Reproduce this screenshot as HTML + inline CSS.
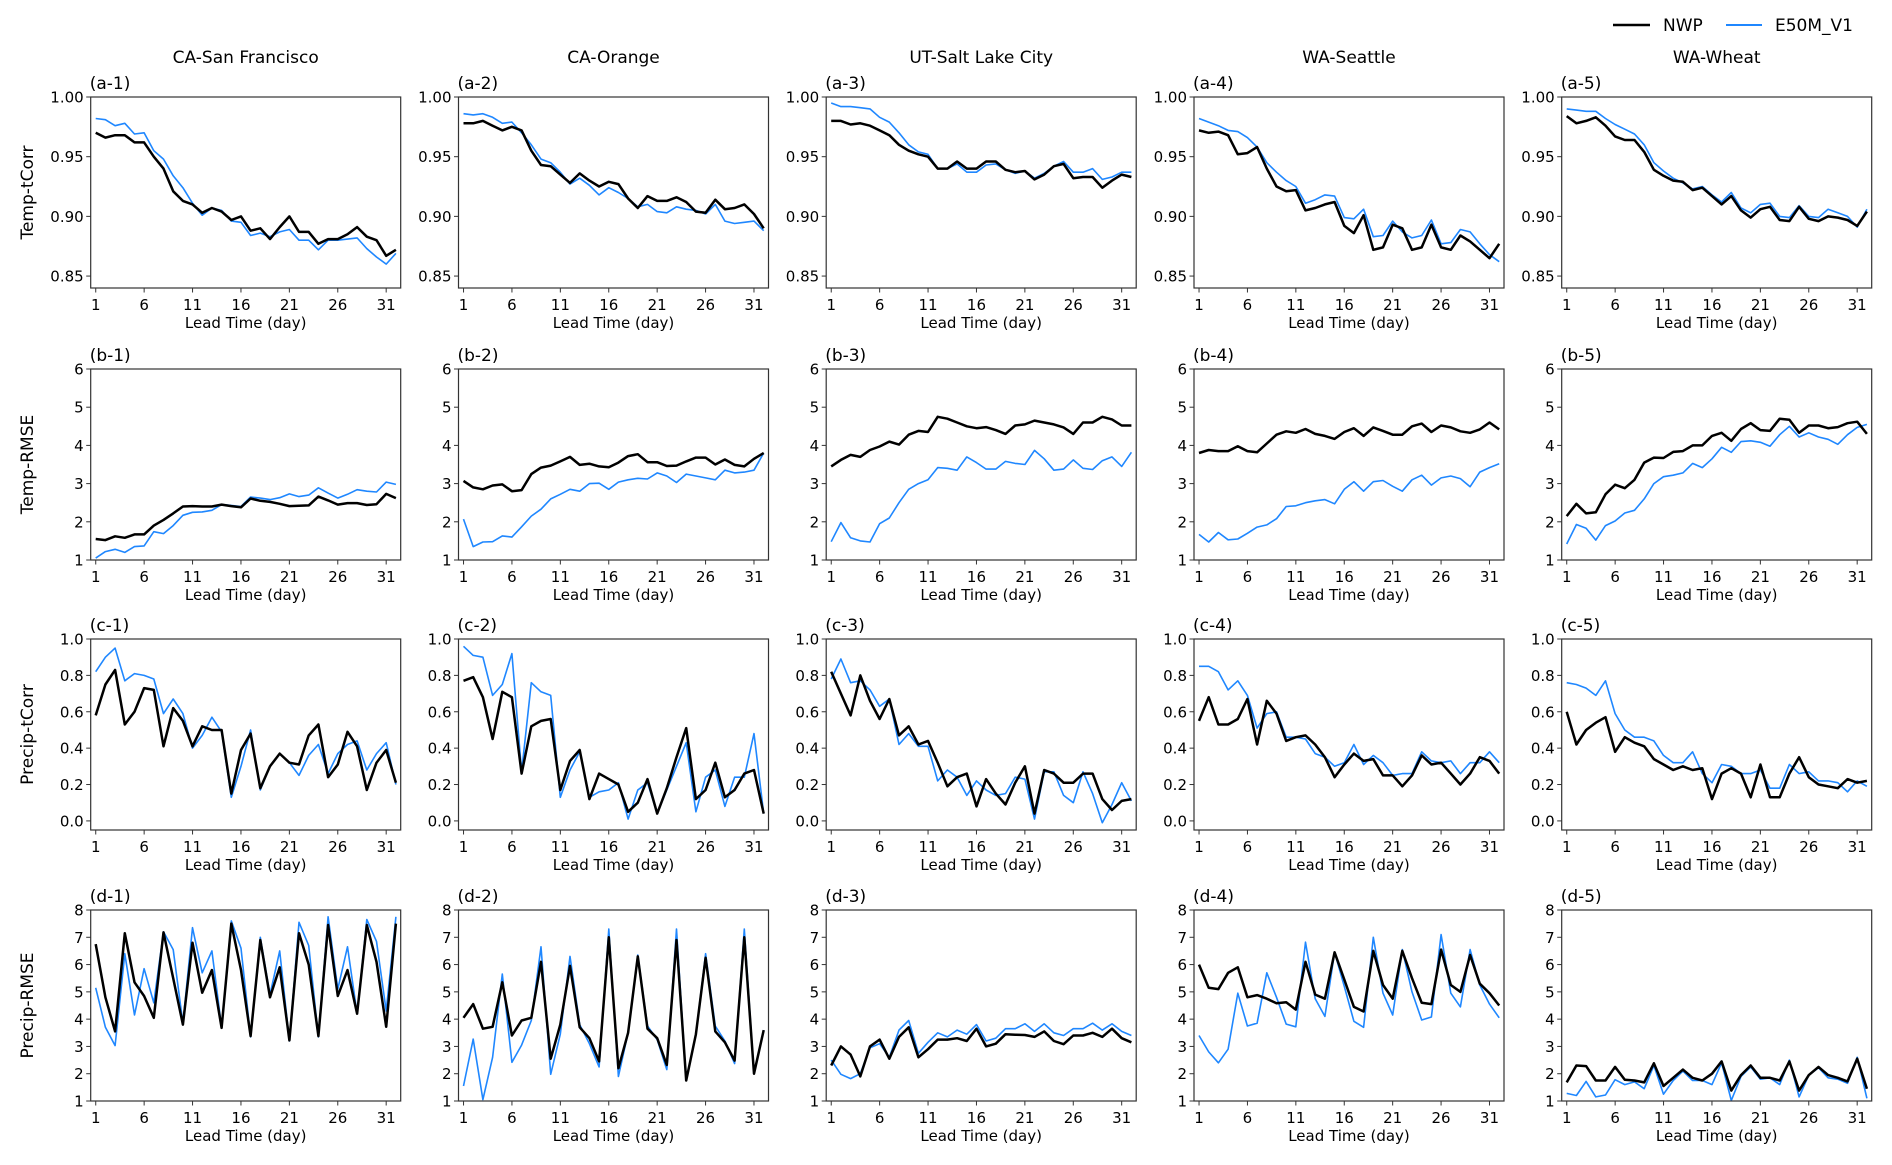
<!DOCTYPE html>
<html><head><meta charset="utf-8">
<style>
html,body{margin:0;padding:0;background:#fff;}
svg{display:block;font-family:"DejaVu Sans","Liberation Sans",sans-serif;}
</style></head>
<body>
<svg id="fig" width="1892" height="1165" viewBox="0 0 1892 1165" xmlns="http://www.w3.org/2000/svg">
<g>
<line x1="1613" y1="25" x2="1650" y2="25" stroke="#000" stroke-width="2.6"/>
<text x="1663" y="31" font-size="17">NWP</text>
<line x1="1726" y1="25" x2="1762" y2="25" stroke="#1f87ff" stroke-width="2"/>
<text x="1775" y="31" font-size="17">E50M_V1</text>
</g>
</svg>
<script>
const columnTitles=["CA-San Francisco","CA-Orange","UT-Salt Lake City","WA-Seattle","WA-Wheat"];
const rowLabels=["Temp-tCorr","Temp-RMSE","Precip-tCorr","Precip-RMSE"];
const rowLetters=["a","b","c","d"];
const xTicks=[1,6,11,16,21,26,31];
const yTicksA=["0.85","0.90","0.95","1.00"];
const yTicksB=["1","2","3","4","5","6"];
const yTicksC=["0.0","0.2","0.4","0.6","0.8","1.0"];
const yTicksD=["1","2","3","4","5","6","7","8"];

const nwpA1=[.970,.966,.968,.968,.962,.962,.950,.940,.921,.913,.910,.903,.907,.904,.897,.900,.888,.890,.881,.891,.900,.887,.887,.877,.881,.881,.885,.891,.883,.880,.867,.872];
const e50A1=[.982,.981,.976,.978,.969,.970,.955,.948,.934,.924,.911,.901,.907,.905,.896,.895,.884,.886,.883,.887,.889,.880,.880,.872,.880,.880,.881,.882,.873,.866,.860,.869];
const nwpA2=[.978,.978,.980,.976,.972,.975,.972,.955,.943,.942,.935,.928,.936,.930,.925,.929,.927,.915,.907,.917,.913,.913,.916,.912,.904,.903,.914,.906,.907,.910,.902,.890];
const e50A2=[.986,.985,.986,.983,.978,.979,.970,.960,.948,.945,.937,.927,.932,.926,.918,.924,.920,.915,.908,.910,.904,.903,.908,.906,.905,.902,.910,.896,.894,.895,.896,.888];
const nwpA3=[.980,.980,.977,.978,.976,.972,.968,.960,.955,.952,.950,.940,.940,.946,.940,.940,.946,.946,.939,.937,.938,.931,.935,.942,.944,.932,.933,.933,.924,.930,.935,.933];
const e50A3=[.995,.992,.992,.991,.990,.983,.979,.970,.960,.954,.952,.940,.940,.944,.937,.937,.943,.944,.939,.936,.938,.932,.936,.942,.946,.937,.937,.940,.931,.933,.937,.937];
const nwpA4=[.972,.970,.971,.968,.952,.953,.958,.940,.925,.921,.922,.905,.907,.910,.912,.892,.886,.901,.872,.874,.893,.890,.872,.874,.893,.874,.872,.884,.879,.872,.865,.877];
const e50A4=[.982,.979,.976,.972,.971,.966,.958,.945,.937,.930,.925,.911,.914,.918,.917,.899,.898,.906,.883,.884,.896,.887,.882,.884,.897,.877,.878,.889,.887,.877,.868,.862];
const nwpA5=[.984,.978,.980,.983,.976,.967,.964,.964,.954,.939,.934,.930,.929,.922,.924,.917,.910,.917,.905,.899,.906,.908,.897,.896,.908,.898,.896,.900,.899,.897,.892,.904];
const e50A5=[.990,.989,.988,.988,.982,.977,.973,.969,.960,.945,.938,.932,.928,.923,.925,.918,.912,.920,.907,.903,.910,.911,.900,.899,.909,.900,.899,.906,.903,.900,.891,.906];

const nwpB1=[1.55,1.52,1.62,1.58,1.67,1.67,1.90,2.05,2.22,2.40,2.41,2.40,2.40,2.45,2.41,2.38,2.61,2.55,2.52,2.47,2.41,2.42,2.43,2.66,2.56,2.45,2.49,2.49,2.44,2.46,2.73,2.62];
const e50B1=[1.05,1.22,1.28,1.20,1.35,1.37,1.74,1.69,1.90,2.17,2.25,2.26,2.30,2.45,2.43,2.40,2.65,2.62,2.58,2.63,2.73,2.66,2.70,2.89,2.75,2.62,2.72,2.84,2.80,2.78,3.04,2.98];
const nwpB2=[3.07,2.90,2.85,2.95,2.98,2.80,2.83,3.25,3.42,3.47,3.58,3.70,3.49,3.52,3.45,3.43,3.55,3.72,3.77,3.56,3.56,3.46,3.47,3.58,3.68,3.68,3.50,3.63,3.49,3.45,3.65,3.80];
const e50B2=[2.07,1.35,1.47,1.48,1.63,1.60,1.87,2.15,2.33,2.60,2.72,2.85,2.80,3.00,3.01,2.85,3.04,3.10,3.14,3.12,3.28,3.20,3.03,3.25,3.20,3.15,3.10,3.35,3.28,3.30,3.35,3.80];
const nwpB3=[3.45,3.62,3.75,3.70,3.88,3.97,4.10,4.02,4.28,4.38,4.35,4.75,4.70,4.60,4.50,4.45,4.48,4.40,4.30,4.52,4.55,4.65,4.60,4.55,4.47,4.30,4.60,4.60,4.75,4.68,4.52,4.52];
const e50B3=[1.48,1.98,1.58,1.50,1.47,1.95,2.10,2.50,2.85,3.00,3.10,3.42,3.40,3.35,3.70,3.55,3.38,3.38,3.58,3.53,3.50,3.87,3.65,3.35,3.38,3.62,3.40,3.37,3.60,3.70,3.45,3.82];
const nwpB4=[3.80,3.88,3.85,3.85,3.98,3.85,3.82,4.05,4.28,4.37,4.33,4.43,4.30,4.25,4.17,4.35,4.45,4.25,4.47,4.38,4.28,4.28,4.50,4.57,4.35,4.52,4.47,4.37,4.33,4.42,4.60,4.42];
const e50B4=[1.67,1.47,1.72,1.53,1.55,1.70,1.86,1.92,2.08,2.40,2.42,2.50,2.55,2.58,2.47,2.85,3.05,2.80,3.05,3.08,2.93,2.80,3.10,3.22,2.96,3.15,3.20,3.13,2.92,3.30,3.42,3.52];
const nwpB5=[2.15,2.47,2.22,2.25,2.72,2.97,2.88,3.10,3.55,3.68,3.67,3.83,3.85,4.00,4.00,4.25,4.33,4.12,4.43,4.58,4.40,4.38,4.70,4.67,4.33,4.52,4.52,4.45,4.48,4.58,4.62,4.30];
const e50B5=[1.42,1.93,1.83,1.52,1.90,2.02,2.23,2.30,2.60,3.00,3.18,3.22,3.28,3.53,3.42,3.65,3.95,3.82,4.10,4.12,4.08,3.98,4.28,4.50,4.22,4.33,4.22,4.16,4.03,4.28,4.47,4.55];

const nwpC1=[.58,.75,.83,.53,.60,.73,.72,.41,.62,.55,.41,.52,.50,.50,.15,.39,.48,.18,.30,.37,.32,.31,.47,.53,.24,.31,.49,.41,.17,.32,.39,.21];
const e50C1=[.82,.90,.95,.77,.81,.80,.78,.59,.67,.59,.40,.47,.57,.49,.13,.30,.50,.17,.30,.37,.32,.25,.36,.42,.26,.37,.42,.44,.28,.37,.43,.20];
const nwpC2=[.77,.79,.68,.45,.71,.68,.26,.52,.55,.56,.17,.33,.39,.12,.26,.23,.20,.05,.10,.23,.04,.18,.35,.51,.12,.17,.32,.13,.17,.26,.28,.04];
const e50C2=[.96,.91,.90,.69,.75,.92,.27,.76,.71,.69,.13,.28,.38,.13,.16,.17,.21,.01,.17,.21,.04,.17,.30,.43,.05,.24,.28,.08,.24,.24,.48,.04];
const nwpC3=[.82,.70,.58,.80,.66,.56,.67,.47,.52,.42,.44,.32,.19,.24,.26,.08,.23,.15,.09,.21,.30,.04,.28,.26,.21,.21,.26,.26,.12,.06,.11,.12];
const e50C3=[.78,.89,.76,.77,.72,.63,.67,.42,.48,.41,.41,.22,.28,.24,.14,.22,.17,.14,.15,.24,.23,.01,.27,.27,.14,.10,.27,.15,-.01,.09,.21,.11];
const nwpC4=[.55,.68,.53,.53,.56,.67,.42,.66,.59,.44,.46,.47,.42,.35,.24,.31,.37,.33,.34,.25,.25,.19,.25,.36,.31,.32,.26,.20,.26,.35,.33,.26];
const e50C4=[.85,.85,.82,.72,.77,.69,.51,.59,.60,.46,.46,.45,.37,.35,.30,.32,.42,.31,.36,.32,.25,.26,.26,.38,.33,.32,.33,.26,.32,.32,.38,.32];
const nwpC5=[.60,.42,.50,.54,.57,.38,.46,.43,.41,.34,.31,.28,.30,.28,.29,.12,.26,.29,.26,.13,.31,.13,.13,.26,.35,.24,.20,.19,.18,.23,.21,.22];
const e50C5=[.76,.75,.73,.69,.77,.59,.50,.46,.46,.44,.36,.32,.32,.38,.26,.21,.31,.30,.26,.26,.28,.18,.18,.31,.26,.27,.22,.22,.21,.16,.22,.19];

const nwpD1=[6.75,4.8,3.55,7.15,5.35,4.85,4.05,7.18,5.5,3.8,6.8,4.97,5.8,3.68,7.5,5.8,3.38,6.9,4.8,5.9,3.22,7.15,6.0,3.38,7.45,4.85,5.8,4.2,7.45,6.1,3.72,7.5];
const e50D1=[5.15,3.7,3.03,6.4,4.15,5.85,4.6,7.2,6.55,3.85,7.35,5.7,6.5,3.7,7.6,6.6,3.35,7.0,4.9,6.5,3.2,7.55,6.7,3.35,7.75,5.1,6.65,4.2,7.65,6.85,4.3,7.75];
const nwpD2=[4.05,4.55,3.65,3.72,5.35,3.40,3.95,4.05,6.1,2.55,3.8,5.95,3.7,3.3,2.45,7.0,2.2,3.5,6.3,3.65,3.3,2.32,6.9,1.75,3.45,6.25,3.55,3.15,2.48,7.0,2.0,3.6];
const e50D2=[1.55,3.27,1.05,2.6,5.65,2.42,3.05,3.95,6.65,1.98,3.45,6.3,3.8,3.1,2.25,7.3,1.9,3.5,6.35,3.75,3.25,2.15,7.3,1.75,3.45,6.4,3.75,3.2,2.37,7.3,2.0,3.6];
const nwpD3=[2.3,3.0,2.7,1.9,3.0,3.25,2.55,3.35,3.7,2.6,2.9,3.25,3.25,3.3,3.2,3.65,3.0,3.1,3.45,3.43,3.42,3.35,3.55,3.2,3.08,3.4,3.4,3.5,3.35,3.65,3.3,3.15];
const e50D3=[2.5,1.98,1.82,2.0,2.95,3.1,2.6,3.6,3.95,2.75,3.15,3.5,3.35,3.6,3.45,3.8,3.2,3.3,3.65,3.65,3.83,3.55,3.83,3.5,3.4,3.65,3.65,3.85,3.6,3.83,3.55,3.4];
const nwpD4=[6.0,5.15,5.1,5.7,5.9,4.8,4.88,4.75,4.58,4.62,4.35,6.1,4.9,4.75,6.45,5.45,4.45,4.28,6.5,5.25,4.75,6.5,5.5,4.6,4.55,6.55,5.25,5.0,6.35,5.3,4.95,4.5];
const e50D4=[3.4,2.8,2.4,2.9,4.95,3.75,3.85,5.7,4.8,3.82,3.72,6.82,4.75,4.1,6.45,5.2,3.92,3.7,7.0,4.95,4.15,6.55,5.0,3.97,4.08,7.1,4.95,4.45,6.55,5.25,4.55,4.05];
const nwpD5=[1.68,2.3,2.28,1.75,1.75,2.25,1.78,1.75,1.68,2.38,1.55,1.85,2.15,1.85,1.75,2.0,2.45,1.38,1.95,2.3,1.85,1.85,1.75,2.45,1.38,1.95,2.25,1.95,1.85,1.72,2.55,1.45];
const e50D5=[1.28,1.2,1.72,1.15,1.22,1.78,1.6,1.7,1.45,2.3,1.25,1.75,2.1,1.75,1.75,1.6,2.4,1.02,1.9,2.25,1.8,1.85,1.6,2.5,1.15,1.95,2.22,1.85,1.8,1.65,2.6,1.1];

const NS="http://www.w3.org/2000/svg";
const svg=document.getElementById('fig');
function mk(tag,attrs,parent){const e=document.createElementNS(NS,tag);for(const k in attrs)e.setAttribute(k,attrs[k]);(parent||svg).appendChild(e);return e;}

const rowSeries=[
 [[nwpA1,e50A1],[nwpA2,e50A2],[nwpA3,e50A3],[nwpA4,e50A4],[nwpA5,e50A5]],
 [[nwpB1,e50B1],[nwpB2,e50B2],[nwpB3,e50B3],[nwpB4,e50B4],[nwpB5,e50B5]],
 [[nwpC1,e50C1],[nwpC2,e50C2],[nwpC3,e50C3],[nwpC4,e50C4],[nwpC5,e50C5]],
 [[nwpD1,e50D1],[nwpD2,e50D2],[nwpD3,e50D3],[nwpD4,e50D4],[nwpD5,e50D5]]];
const rowTicks=[yTicksA,yTicksB,yTicksC,yTicksD];
const rowYlim=[[0.84,1.0],[1,6],[-0.05,1.0],[1,8]];
const rowTop=[97,369,639,910];
const colLeft=[90.7,458.5,826.2,1194,1561.7];
const W=310,H=191;
const xMin=0.48,xMax=32.5;

for(let c=0;c<5;c++){
  const t=mk('text',{x:colLeft[c]+W/2,y:63,'font-size':17,'text-anchor':'middle'});
  
  
  t.textContent=columnTitles[c];
}
for(let r=0;r<4;r++){
  const yl=mk('text',{x:0,y:0,'font-size':17,'text-anchor':'middle',transform:`translate(33,${rowTop[r]+H/2}) rotate(-90)`});
  
  
  yl.textContent=rowLabels[r];
  const [y0,y1]=rowYlim[r];
  for(let c=0;c<5;c++){
    const L=colLeft[c],T=rowTop[r];
    const g=mk('g',{});
    
    
    const xs=d=>L+(d-xMin)/(xMax-xMin)*W;
    const ys=v=>T+H-(v-y0)/(y1-y0)*H;
    const lab=mk('text',{x:L-1,y:T-8,'font-size':17},g);
    
    
    lab.textContent='('+rowLetters[r]+'-'+(c+1)+')';
    xTicks.forEach(d=>{
      const x=xs(d);
      const tl=mk('line',{x1:x,y1:T+H,x2:x,y2:T+H+4.5,stroke:'#333','stroke-width':1},g);
      
      
      const tt=mk('text',{x:x,y:T+H+22,'font-size':15,'text-anchor':'middle'},g);
      
      
      tt.textContent=d;
    });
    rowTicks[r].forEach(s=>{
      const y=ys(parseFloat(s));
      const tl=mk('line',{x1:L-4.5,y1:y,x2:L,y2:y,stroke:'#333','stroke-width':1},g);
      
      
      const tt=mk('text',{x:L-7,y:y+5.5,'font-size':15,'text-anchor':'end'},g);
      
      
      tt.textContent=s;
    });
    const xl=mk('text',{x:L+W/2,y:T+H+40,'font-size':15,'text-anchor':'middle'},g);
    
    
    xl.textContent='Lead Time (day)';
    const [nwp,e50]=rowSeries[r][c];
    const pts=a=>a.map((v,i)=>xs(i+1).toFixed(1)+','+ys(v).toFixed(1)).join(' ');
    const p2=mk('polyline',{points:pts(e50),fill:'none',stroke:'#1f87ff','stroke-width':1.6,'stroke-linejoin':'round'},g);
    
    
    const p1=mk('polyline',{points:pts(nwp),fill:'none',stroke:'#000','stroke-width':2.5,'stroke-linejoin':'round'},g);
    
    
    const fr=mk('rect',{x:L,y:T,width:W,height:H,fill:'none',stroke:'#333','stroke-width':1.2},g);
    
    
  }
}
</script>
</body></html>
